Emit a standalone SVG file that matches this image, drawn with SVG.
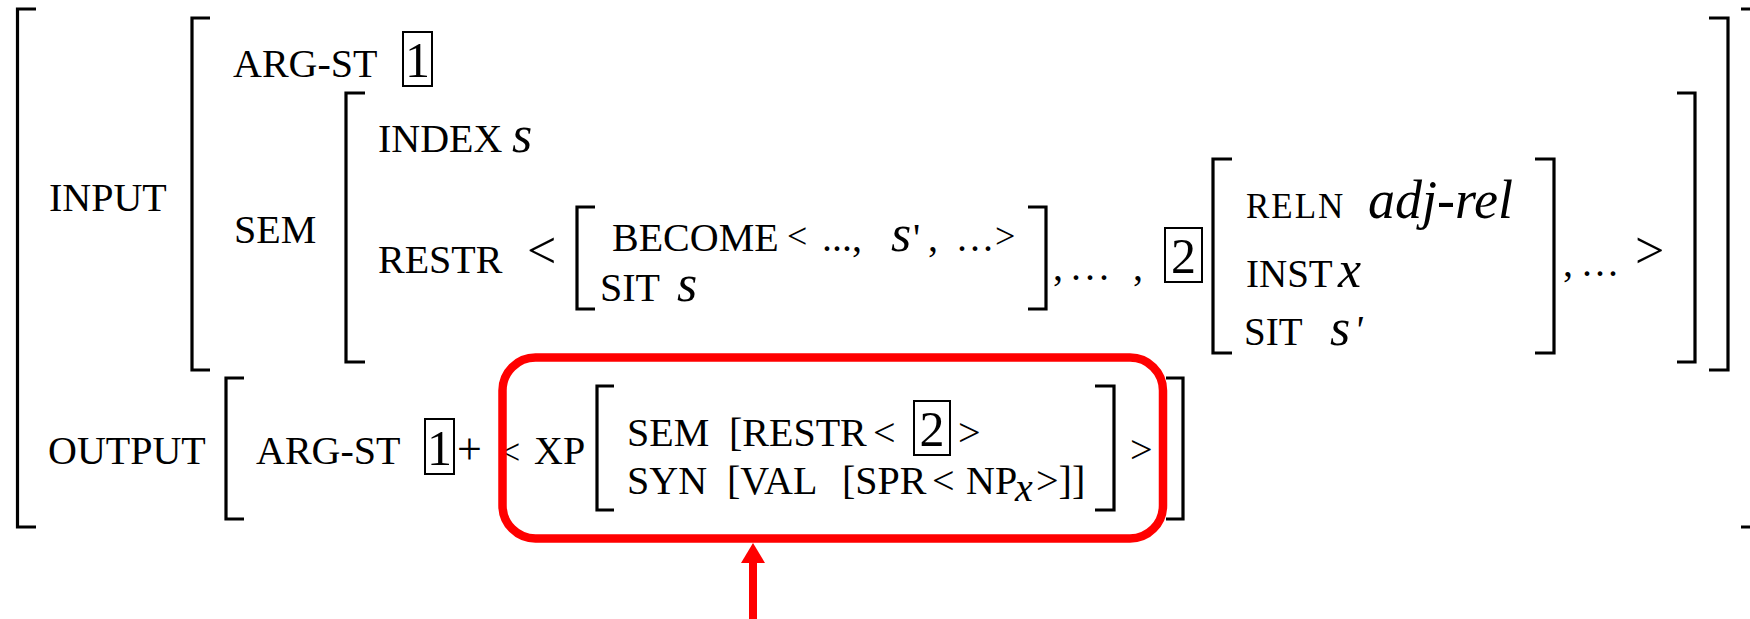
<svg xmlns="http://www.w3.org/2000/svg" width="1750" height="619" viewBox="0 0 1750 619">
  <style>
    text { font-family: 'Liberation Serif', 'Times New Roman', serif; font-size: 40px; fill: #000; }
    .it { font-style: italic; }
    .v { font-size: 52px; }
    .v54 { font-size: 54px; }
    .f35 { font-size: 35px; letter-spacing: 2px; }
    .f36 { font-size: 36px; }
    .f39 { font-size: 39px; }
    .f44 { font-size: 44px; }
    .br { fill: none; stroke: #000; stroke-width: 3.2; stroke-linejoin: miter; }
    .tag { fill: none; stroke: #000; stroke-width: 2; }
    .num { font-size: 50px; text-anchor: middle; }
    .hl { fill: none; stroke: #ff0000; stroke-width: 8.5; }
    .link { stroke: #ff0000; stroke-width: 8; fill: none; }
  </style>
  <defs>
    <marker id="head" viewBox="0 0 20 24" refX="8" refY="12" markerWidth="20" markerHeight="24" markerUnits="userSpaceOnUse" orient="auto">
      <path d="M0,0 L20,12 L0,24 z" fill="#ff0000"/>
    </marker>
  </defs>

  <rect width="1750" height="619" fill="#fff"/>

  <!-- outermost structure -->
  <g id="avm">
    <path class="br" d="M36,9 H17.5 V527 H36"/>
    <path class="br" d="M1741,9 H1760 V527 H1741"/>
  </g>

  <!-- INPUT feature -->
  <g id="input">
    <text x="49" y="211">INPUT</text>
    <path class="br" d="M210,18 H192 V370 H210"/>
    <path class="br" d="M1709,18 H1728 V370 H1709"/>

    <text x="233" y="77">ARG-ST</text>
    <rect class="tag" x="403" y="32" width="29" height="54"/>
    <text class="num" x="417.5" y="77">1</text>

    <text x="234" y="243">SEM</text>
    <path class="br" d="M365,93 H346 V362 H365"/>
    <path class="br" d="M1677,93 H1695 V362 H1677"/>

    <text x="378" y="152">INDEX</text>
    <text class="it v" x="512" y="152">s</text>

    <text x="378" y="273">RESTR</text>
    <text class="v" x="527" y="268">&lt;</text>

    <!-- first RESTR element -->
    <g id="become-rel">
      <path class="br" d="M595,207 H577 V309 H595"/>
      <path class="br" d="M1028,207 H1046 V309 H1028"/>
      <text x="612" y="251">BECOME</text>
      <text class="f36" x="787" y="248">&lt;</text>
      <text x="822" y="251">...,</text>
      <text class="it v" x="891" y="251">s</text>
      <text x="913" y="251">'</text>
      <text x="928" y="251">,</text>
      <text x="957" y="251" letter-spacing="3">...</text>
      <text class="f36" x="995" y="248">&gt;</text>
      <text x="600" y="301">SIT</text>
      <text class="it v" x="677" y="301">s</text>
    </g>

    <text x="1053" y="280">,</text>
    <text x="1071" y="280" letter-spacing="4">...</text>
    <text x="1133" y="280">,</text>

    <!-- second RESTR element, tagged 2 -->
    <g id="adj-rel">
      <rect class="tag" x="1165" y="228" width="37" height="54"/>
      <text class="num" x="1183.5" y="273">2</text>
      <path class="br" d="M1232,159 H1213 V353 H1232"/>
      <path class="br" d="M1535,159 H1554 V353 H1535"/>
      <text class="f35" x="1246" y="218">RELN</text>
      <text class="it v54" x="1368" y="218">adj-rel</text>
      <text class="f39" x="1246" y="287">INST</text>
      <text class="it v" x="1338" y="287">x</text>
      <text class="f39" x="1244" y="345">SIT</text>
      <text class="it v" x="1330" y="345">s</text>
      <text class="it" x="1354" y="343">'</text>
    </g>

    <text x="1563" y="276">,</text>
    <text x="1582" y="276" letter-spacing="3">...</text>
    <text class="v" x="1635" y="268">&gt;</text>
  </g>

  <!-- OUTPUT feature -->
  <g id="output">
    <text x="48" y="464">OUTPUT</text>
    <path class="br" d="M244,378 H226 V519 H244"/>
    <path class="br" d="M1166,378 H1183 V519 H1166"/>

    <text x="256" y="464">ARG-ST</text>
    <rect class="tag" x="425" y="419" width="29" height="55"/>
    <text class="num" x="439.5" y="465">1</text>
    <text class="f44" x="457" y="464">+</text>
    <text class="f36" x="500" y="464">&lt;</text>

    <g id="xp">
      <text x="534" y="464">XP</text>
      <path class="br" d="M614,386 H597 V510 H614"/>
      <path class="br" d="M1095,386 H1114 V510 H1095"/>
      <text x="627" y="446">SEM</text>
      <text x="729" y="446">[RESTR</text>
      <text x="873" y="446">&lt;</text>
      <rect class="tag" x="914" y="401" width="36" height="54"/>
      <text class="num" x="932" y="446">2</text>
      <text x="958" y="446">&gt;</text>
      <text x="627" y="494">SYN</text>
      <text x="727" y="494">[VAL</text>
      <text x="842" y="494">[SPR</text>
      <text x="932" y="494">&lt;</text>
      <text x="966" y="494">NP</text>
      <text class="it" x="1015" y="501">x</text>
      <text x="1036" y="494">&gt;]]</text>
    </g>
    <text x="1130" y="463">&gt;</text>
  </g>

  <!-- highlight frame around the XP complement -->
  <g id="highlight">
    <rect class="hl" x="502.5" y="357.5" width="660.5" height="181" rx="33" ry="33"/>
  </g>

  <g id="connectors">
    <line class="link" x1="753" y1="630" x2="753" y2="555" marker-end="url(#head)"/>
  </g>
</svg>
